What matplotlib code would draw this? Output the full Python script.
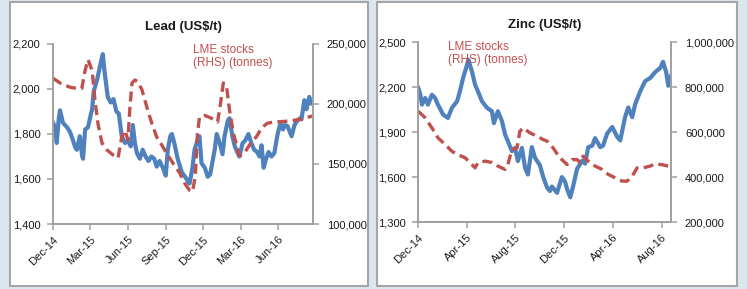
import matplotlib
matplotlib.use("Agg")
import matplotlib.pyplot as plt
import matplotlib.dates as mdates
import matplotlib.ticker as mticker
from matplotlib.patches import Rectangle
import pandas as pd

plt.rcParams["font.family"] = ["Liberation Sans", "DejaVu Sans"]

# ── colours ────────────────────────────────────────────────────────────────
C_BG     = "#dce6f1"
C_FRAME  = "#a6a6a6"
C_PRICE  = "#4f81bd"
C_STOCK  = "#c0504d"
C_AXIS   = "#a0a0a0"
C_TEXT   = "#1a1a1a"

# ── Lead: price (US$/t) ────────────────────────────────────────────────────
lead_price_dates = [
    "2014-12-01", "2014-12-06", "2014-12-10", "2014-12-15", "2014-12-18", "2014-12-25",
    "2015-01-04", "2015-01-11", "2015-01-18", "2015-01-24", "2015-01-28", "2015-02-04",
    "2015-02-10", "2015-02-12", "2015-02-17", "2015-02-24", "2015-03-02", "2015-03-06",
    "2015-03-10", "2015-03-18", "2015-03-25", "2015-04-01", "2015-04-05", "2015-04-13",
    "2015-04-20", "2015-04-27", "2015-05-04", "2015-05-10", "2015-05-17", "2015-05-25",
    "2015-06-01", "2015-06-08", "2015-06-13", "2015-06-18", "2015-06-23", "2015-06-30",
    "2015-07-07", "2015-07-14", "2015-07-21", "2015-07-28", "2015-08-04", "2015-08-10",
    "2015-08-17", "2015-08-25", "2015-09-01", "2015-09-06", "2015-09-12", "2015-09-16",
    "2015-09-23", "2015-09-30", "2015-10-10", "2015-10-18", "2015-10-25", "2015-10-29",
    "2015-11-05", "2015-11-10", "2015-11-18", "2015-11-22", "2015-11-27", "2015-12-05",
    "2015-12-12", "2015-12-18", "2015-12-24", "2015-12-29", "2016-01-03", "2016-01-10",
    "2016-01-17", "2016-01-22", "2016-01-30", "2016-02-03", "2016-02-10", "2016-02-16",
    "2016-02-23", "2016-02-27", "2016-03-06", "2016-03-12", "2016-03-20", "2016-03-27",
    "2016-04-03", "2016-04-10", "2016-04-16", "2016-04-21", "2016-04-26", "2016-05-02",
    "2016-05-08", "2016-05-15", "2016-05-22", "2016-05-30", "2016-06-06", "2016-06-12",
    "2016-06-17", "2016-06-23", "2016-07-03", "2016-07-10", "2016-07-17", "2016-07-24",
    "2016-07-27", "2016-08-03", "2016-08-08", "2016-08-15", "2016-08-19", "2016-08-23",
]
lead_price = [
    1850, 1830, 1760, 1870, 1905, 1850,
    1830, 1810, 1775, 1740, 1730, 1790,
    1700, 1690, 1820, 1830, 1880, 1910,
    1990, 2040, 2100, 2155, 2080, 1965,
    1940, 1955, 1900, 1890, 1790, 1760,
    1770, 1745, 1840, 1760, 1715, 1690,
    1730, 1700, 1680, 1700, 1690, 1655,
    1680, 1650, 1615, 1730, 1790, 1800,
    1750, 1690, 1630, 1610, 1590, 1580,
    1650, 1730, 1775, 1790, 1670, 1650,
    1610, 1620, 1680, 1730, 1800, 1760,
    1710, 1790, 1860, 1870, 1790, 1745,
    1715, 1700, 1760, 1770, 1800, 1760,
    1730, 1720, 1700, 1750, 1650, 1690,
    1720, 1700, 1715, 1800, 1850, 1820,
    1840, 1835, 1790, 1840, 1860, 1870,
    1865, 1950, 1910, 1965, 1935, 1940,
]

# ── Lead: LME stocks (tonnes, RHS) ─────────────────────────────────────────
lead_stock_dates = [
    "2014-12-01", "2014-12-18", "2015-01-11", "2015-02-04", "2015-02-09", "2015-02-17",
    "2015-02-24", "2015-03-06", "2015-03-13", "2015-03-20", "2015-03-30", "2015-04-11",
    "2015-04-26", "2015-05-08", "2015-05-17", "2015-05-25", "2015-06-01", "2015-06-06",
    "2015-06-11", "2015-06-18", "2015-06-25", "2015-07-05", "2015-07-17", "2015-07-29",
    "2015-08-10", "2015-08-22", "2015-09-03", "2015-09-18", "2015-10-05", "2015-10-17",
    "2015-10-29", "2015-11-05", "2015-11-12", "2015-11-17", "2015-11-22", "2015-12-05",
    "2015-12-22", "2016-01-05", "2016-01-12", "2016-01-19", "2016-01-27", "2016-02-03",
    "2016-02-13", "2016-02-27", "2016-03-08", "2016-03-23", "2016-04-09", "2016-04-21",
    "2016-05-05", "2016-05-22", "2016-06-16", "2016-07-22", "2016-08-23",
]
lead_stocks = [
    221500, 217500, 214000, 212500, 213000, 228000,
    237000, 228000, 203000, 184000, 167500, 161700,
    157500, 155000, 172500, 178000, 170000, 197500,
    217500, 220000, 218500, 212000, 197500, 184000,
    172500, 166000, 159000, 151000, 142500, 134000,
    128000, 127000, 140000, 175000, 189000, 190500,
    188000, 185000, 200000, 217500, 214000, 195000,
    175000, 157000, 158000, 166000, 173000, 180000,
    184000, 185000, 185500, 187000, 190000,
]

# ── Zinc: price (US$/t) ────────────────────────────────────────────────────
zinc_price_dates = [
    "2014-12-01", "2014-12-06", "2014-12-10", "2014-12-18", "2014-12-25", "2015-01-04",
    "2015-01-12", "2015-01-19", "2015-02-01", "2015-02-13", "2015-02-23", "2015-03-08",
    "2015-03-15", "2015-03-23", "2015-04-02", "2015-04-05", "2015-04-14", "2015-04-22",
    "2015-04-29", "2015-05-09", "2015-05-22", "2015-06-03", "2015-06-08", "2015-06-18",
    "2015-06-28", "2015-07-06", "2015-07-13", "2015-07-23", "2015-07-31", "2015-08-07",
    "2015-08-17", "2015-08-25", "2015-09-01", "2015-09-11", "2015-09-19", "2015-10-01",
    "2015-10-09", "2015-10-19", "2015-10-26", "2015-10-31", "2015-11-13", "2015-11-25",
    "2015-12-03", "2015-12-08", "2015-12-16", "2015-12-23", "2016-01-02", "2016-01-15",
    "2016-01-22", "2016-01-30", "2016-02-09", "2016-02-16", "2016-02-29", "2016-03-07",
    "2016-03-17", "2016-03-30", "2016-04-11", "2016-04-19", "2016-05-01", "2016-05-09",
    "2016-05-19", "2016-05-26", "2016-06-08", "2016-06-20", "2016-07-03", "2016-07-15",
    "2016-07-28", "2016-08-04", "2016-08-12", "2016-08-17", "2016-08-24",
]
zinc_price = [
    2195, 2150, 2084, 2128, 2084, 2150,
    2128, 2084, 2017, 1995, 2062, 2107,
    2173, 2262, 2351, 2384, 2307, 2217,
    2173, 2107, 2062, 2040, 1960, 2040,
    1975, 1884, 1840, 1773, 1795, 1707,
    1795, 1662, 1617, 1800, 1728, 1680,
    1604, 1530, 1507, 1537, 1495, 1600,
    1570, 1520, 1465, 1537, 1655, 1710,
    1690, 1800, 1810, 1860, 1800, 1810,
    1890, 1935, 1870, 1845, 2000, 2065,
    2000, 2084, 2173, 2240, 2262, 2300,
    2329, 2370, 2300, 2210, 2275,
]

# ── Zinc: LME stocks (tonnes, RHS) ─────────────────────────────────────────
zinc_stock_dates = [
    "2014-12-01", "2014-12-18", "2015-01-04", "2015-01-19", "2015-02-06", "2015-02-23",
    "2015-03-10", "2015-03-28", "2015-04-14", "2015-04-22", "2015-04-29", "2015-05-17",
    "2015-06-03", "2015-06-18", "2015-07-06", "2015-07-13", "2015-07-23", "2015-08-05",
    "2015-08-12", "2015-08-20", "2015-09-06", "2015-09-24", "2015-10-09", "2015-10-19",
    "2015-11-03", "2015-11-20", "2015-12-08", "2015-12-20", "2016-01-02", "2016-01-10",
    "2016-01-17", "2016-01-30", "2016-02-16", "2016-03-05", "2016-03-20", "2016-04-06",
    "2016-04-24", "2016-05-06", "2016-05-19", "2016-05-31", "2016-06-15", "2016-07-03",
    "2016-07-15", "2016-08-02", "2016-08-17", "2016-08-24",
]
zinc_stocks = [
    693000, 664000, 619000, 575000, 545000, 515000,
    500000, 486000, 456000, 441000, 464000, 471000,
    465000, 449000, 434000, 456000, 523000, 530000,
    604000, 619000, 597000, 582000, 567000, 560000,
    530000, 486000, 456000, 478000, 478000, 464000,
    493000, 471000, 449000, 434000, 412000, 397000,
    382000, 382000, 404000, 441000, 441000, 449000,
    459000, 455000, 449000, 441000,
]

X_START, X_END = pd.Timestamp("2014-12-01"), pd.Timestamp("2016-08-24")

fig = plt.figure(figsize=(7.47, 2.89), dpi=100, facecolor=C_BG)

# white panels with grey frames (behind the axes)
for x0, w in [(0.0134, 0.479), (0.5047, 0.482)]:
    fig.patches.append(Rectangle((x0, 0.0104), w, 0.983, transform=fig.transFigure,
                                 facecolor="white", edgecolor=C_FRAME, lw=1.5, zorder=-5))


def style_axis(ax):
    for side in ("left", "bottom", "right"):
        ax.spines[side].set_color(C_AXIS)
        ax.spines[side].set_linewidth(1.2)
    ax.spines["top"].set_visible(False)
    ax.tick_params(colors=C_AXIS, labelcolor=C_TEXT, labelsize=8, length=4, width=1.1)


def panel(rect, title, p_dates, p_vals, s_dates, s_vals, ylim, yticks, y2lim, y2ticks,
          months, note_xy):
    ax = fig.add_axes(rect)
    ax.set_facecolor("none")
    ax.plot(pd.to_datetime(p_dates), p_vals, color=C_PRICE, lw=3.0, solid_joinstyle="round")
    ax.set_xlim(X_START, X_END)
    ax.set_ylim(*ylim)
    ax.set_yticks(yticks)
    ax.yaxis.set_major_formatter(mticker.StrMethodFormatter("{x:,.0f}"))
    ax.xaxis.set_major_locator(mdates.MonthLocator(bymonth=months))
    ax.xaxis.set_major_formatter(mdates.DateFormatter("%b-%y"))
    plt.setp(ax.get_xticklabels(), rotation=45, ha="right", rotation_mode="anchor")
    ax.tick_params(axis="y", pad=5)

    ax2 = ax.twinx()
    ax2.plot(pd.to_datetime(s_dates), s_vals, color=C_STOCK, lw=2.4,
             linestyle=(0, (3, 1.6)))
    ax2.set_ylim(*y2lim)
    ax2.set_yticks(y2ticks)
    ax2.yaxis.set_major_formatter(mticker.StrMethodFormatter("{x:,.0f}"))
    ax2.tick_params(axis="y", pad=6)

    style_axis(ax)
    style_axis(ax2)
    ax.set_title(title, fontsize=9.5, fontweight="bold", color=C_TEXT, pad=10)
    ax.text(*note_xy, "LME stocks\n(RHS) (tonnes)", transform=ax.transAxes,
            color=C_STOCK, fontsize=8.5, va="top", ha="left", linespacing=1.15)
    return ax, ax2


panel([0.0710, 0.2249, 0.348, 0.6229], "Lead (US$/t)",
      lead_price_dates, lead_price, lead_stock_dates, lead_stocks,
      (1400, 2200), [1400, 1600, 1800, 2000, 2200],
      (100000, 250000), [100000, 150000, 200000, 250000],
      [3, 6, 9, 12], (0.537, 1.0))

panel([0.560, 0.2318, 0.3383, 0.6218], "Zinc (US$/t)",
      zinc_price_dates, zinc_price, zinc_stock_dates, zinc_stocks,
      (1300, 2500), [1300, 1600, 1900, 2200, 2500],
      (200000, 1000000), [200000, 400000, 600000, 800000, 1000000],
      [4, 8, 12], (0.118, 1.01))

fig.savefig("out.png", dpi=100, facecolor=C_BG)
